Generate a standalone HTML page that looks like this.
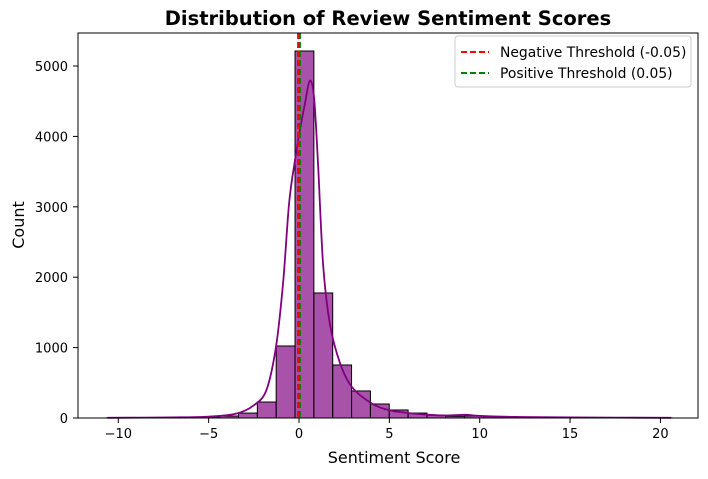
<!DOCTYPE html>
<html><head><meta charset="utf-8"><style>
body{margin:0;background:#fff;font-family:"DejaVu Sans","Liberation Sans",sans-serif}
svg text{font-family:"DejaVu Sans","Liberation Sans",sans-serif}
</style></head><body>
<svg id="c" width="708" height="475" xmlns="http://www.w3.org/2000/svg"></svg>
<script>
const binStart = -10.65;
const binWidth = 1.043;
const counts = [3,3,4,5,8,14,28,70,227,1023,5213,1776,753,384,199,114,70,40,25,30,20,15,10,8,6,5,5,3,2,2];
const kdeX = [-10.6,-7,-5,-3.5,-2.5,-1.8,-1.27,-0.88,-0.55,-0.22,0.05,0.33,0.6,0.83,1.05,1.33,1.7,2.27,2.93,4,5,6.1,7,8,9.2,10,12,15,20.6];
const kdeY = [3,8,20,60,180,400,1020,1920,3050,3660,4090,4470,4790,4560,3620,2200,1350,780,440,210,110,70,50,35,45,30,15,8,3];
const xTicks = [-10,-5,0,5,10,15,20];
const yTicks = [0,1000,2000,3000,4000,5000];
const thresholds = [-0.05,0.05];
const thrColors = ['red','green'];

const L=78,R=698,T=33,B=418;
const sx=v=>299+v*18.07;
const sy=v=>B-v*0.0704;
const svg=document.getElementById('c');
const NS='http://www.w3.org/2000/svg';
function mk(tag,attrs,parent){const e=document.createElementNS(NS,tag);for(const k in attrs)e.setAttribute(k,attrs[k]);(parent||svg).appendChild(e);return e;}

counts.forEach((c,i)=>{
  const x0=sx(binStart+i*binWidth),x1=sx(binStart+(i+1)*binWidth);
  const r=mk('rect',{x:x0,y:sy(c),width:x1-x0,height:B-sy(c),fill:'rgba(128,0,128,0.68)',stroke:'#000','stroke-width':1});
  
  
});
const pts=kdeX.map((x,i)=>[sx(x),sy(kdeY[i])]);
let kd='M'+pts[0][0].toFixed(1)+','+pts[0][1].toFixed(1);
for(let i=0;i<pts.length-1;i++){
  const p0=pts[Math.max(0,i-1)],p1=pts[i],p2=pts[i+1],p3=pts[Math.min(pts.length-1,i+2)];
  const c1=[p1[0]+(p2[0]-p0[0])/6,p1[1]+(p2[1]-p0[1])/6];
  const c2=[p2[0]-(p3[0]-p1[0])/6,p2[1]-(p3[1]-p1[1])/6];
  kd+=' C'+c1.map(v=>v.toFixed(1)).join(',')+' '+c2.map(v=>v.toFixed(1)).join(',')+' '+p2.map(v=>v.toFixed(1)).join(',');
}
const kp=mk('path',{d:kd,fill:'none',stroke:'purple','stroke-width':1.8});


thresholds.forEach((t,i)=>{
  const l=mk('line',{x1:sx(t),x2:sx(t),y1:T,y2:B,stroke:thrColors[i],'stroke-width':2,'stroke-dasharray':'6,3'});
  
  
});
mk('rect',{x:L,y:T,width:R-L,height:B-T,fill:'none',stroke:'#000','stroke-width':1});
xTicks.forEach(v=>{
  mk('line',{x1:sx(v),x2:sx(v),y1:B,y2:B+5,stroke:'#000'});
  const t=mk('text',{x:sx(v),y:B+20,'font-size':13,'text-anchor':'middle'});t.textContent=v<0?'\u2212'+(-v):v;
  
  
});
yTicks.forEach(v=>{
  mk('line',{x1:L-5,x2:L,y1:sy(v),y2:sy(v),stroke:'#000'});
  const t=mk('text',{x:L-10,y:sy(v)+5,'font-size':13,'text-anchor':'end'});t.textContent=v;
  
  
});
</script>
<svg width="708" height="475" style="position:absolute;left:0;top:0" xmlns="http://www.w3.org/2000/svg">
<text x="388" y="25" font-size="19.5" font-weight="bold" text-anchor="middle">Distribution of Review Sentiment Scores</text>
<text x="394" y="463" font-size="16" text-anchor="middle">Sentiment Score</text>
<text x="24" y="225" font-size="16" text-anchor="middle" transform="rotate(-90 24 225)">Count</text>
<g>
<rect x="455" y="36" width="236" height="51" rx="3" fill="#fff" fill-opacity="0.8" stroke="#ccc"/>
<line x1="461" x2="489" y1="52" y2="52" stroke="red" stroke-width="2" stroke-dasharray="6,3"/>
<text x="500" y="57" font-size="13.9">Negative Threshold (-0.05)</text>
<line x1="461" x2="489" y1="73" y2="73" stroke="green" stroke-width="2" stroke-dasharray="6,3"/>
<text x="500" y="78" font-size="13.9">Positive Threshold (0.05)</text>
</g>
</svg>
</body></html>
